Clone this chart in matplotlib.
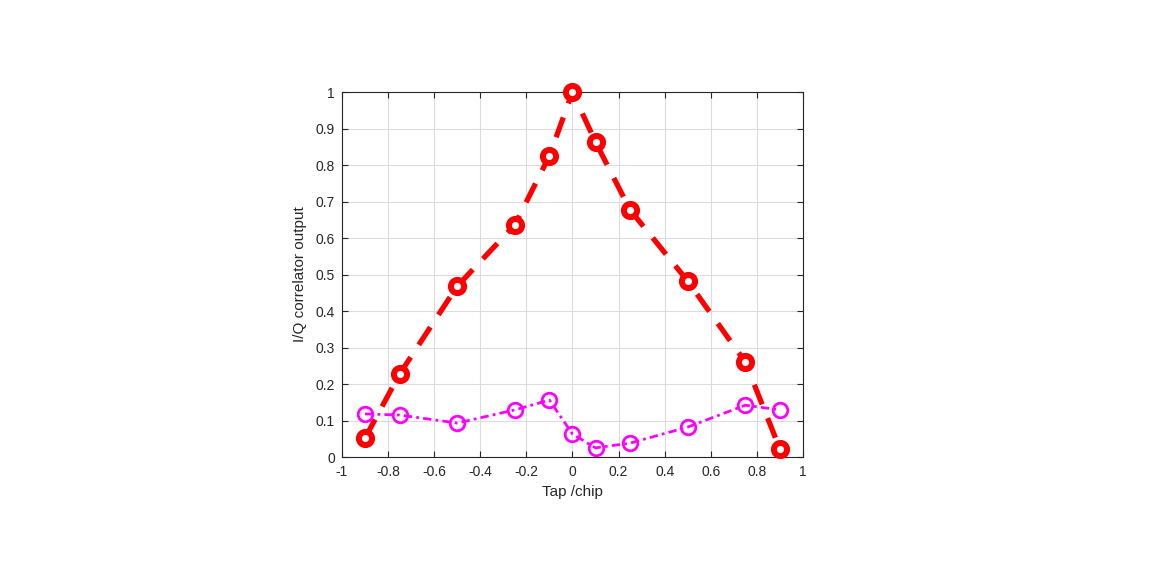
import matplotlib
matplotlib.use("Agg")
import matplotlib.pyplot as plt
import numpy as np

plt.rcParams['font.family'] = ['Liberation Sans', 'DejaVu Sans']

taps = [-0.9, -0.75, -0.5, -0.25, -0.1, 0.0, 0.1, 0.25, 0.5, 0.75, 0.9]
i_out = [0.052, 0.227, 0.468, 0.636, 0.825, 1.0, 0.863, 0.677, 0.482, 0.260, 0.022]
q_out = [0.118, 0.115, 0.093, 0.129, 0.156, 0.063, 0.025, 0.038, 0.082, 0.142, 0.129]
xticks = [-1, -0.8, -0.6, -0.4, -0.2, 0, 0.2, 0.4, 0.6, 0.8, 1]
xtick_labels = ['-1', '-0.8', '-0.6', '-0.4', '-0.2', '0', '0.2', '0.4', '0.6', '0.8', '1']
yticks = [0, 0.1, 0.2, 0.3, 0.4, 0.5, 0.6, 0.7, 0.8, 0.9, 1]
ytick_labels = ['0', '0.1', '0.2', '0.3', '0.4', '0.5', '0.6', '0.7', '0.8', '0.9', '1']

fig = plt.figure(figsize=(11.58, 5.79), dpi=100)
ax = fig.add_axes([0.2953, 0.2107, 0.3981, 0.6304])

ax.plot(taps, i_out, color='red', linestyle=(0, (4.0, 2.8)), linewidth=3.8,
        marker='o', markersize=9.5, markerfacecolor='white', markeredgewidth=4.3,
        markeredgecolor='red', zorder=3, clip_on=False)
ax.plot(taps, q_out, color='magenta', linestyle=(0, (3, 1.5, 1, 1.5)), linewidth=2,
        marker='o', markersize=10.5, markerfacecolor='none', markeredgewidth=2,
        markeredgecolor='magenta', zorder=4, clip_on=False)

ax.set_xlim(-1, 1)
ax.set_ylim(0, 1)
ax.set_xticks(xticks)
ax.set_xticklabels(xtick_labels)
ax.set_yticks(yticks)
ax.set_yticklabels(ytick_labels)
ax.grid(True, color='#dcdcdc', linewidth=0.8)
ax.set_axisbelow(True)
ax.tick_params(direction='in', top=True, right=True, labelsize=10, length=4,
               color='#262626', labelcolor='#262626')
ax.tick_params(axis='x', pad=6)
ax.tick_params(axis='y', pad=5)
for s in ax.spines.values():
    s.set_color('#262626')
    s.set_linewidth(0.8)
ax.set_xlabel('Tap /chip', fontsize=11, color='#262626', labelpad=4)
ax.set_ylabel('I/Q correlator output', fontsize=11, color='#262626', labelpad=6)

fig.savefig('out.png', dpi=100)
